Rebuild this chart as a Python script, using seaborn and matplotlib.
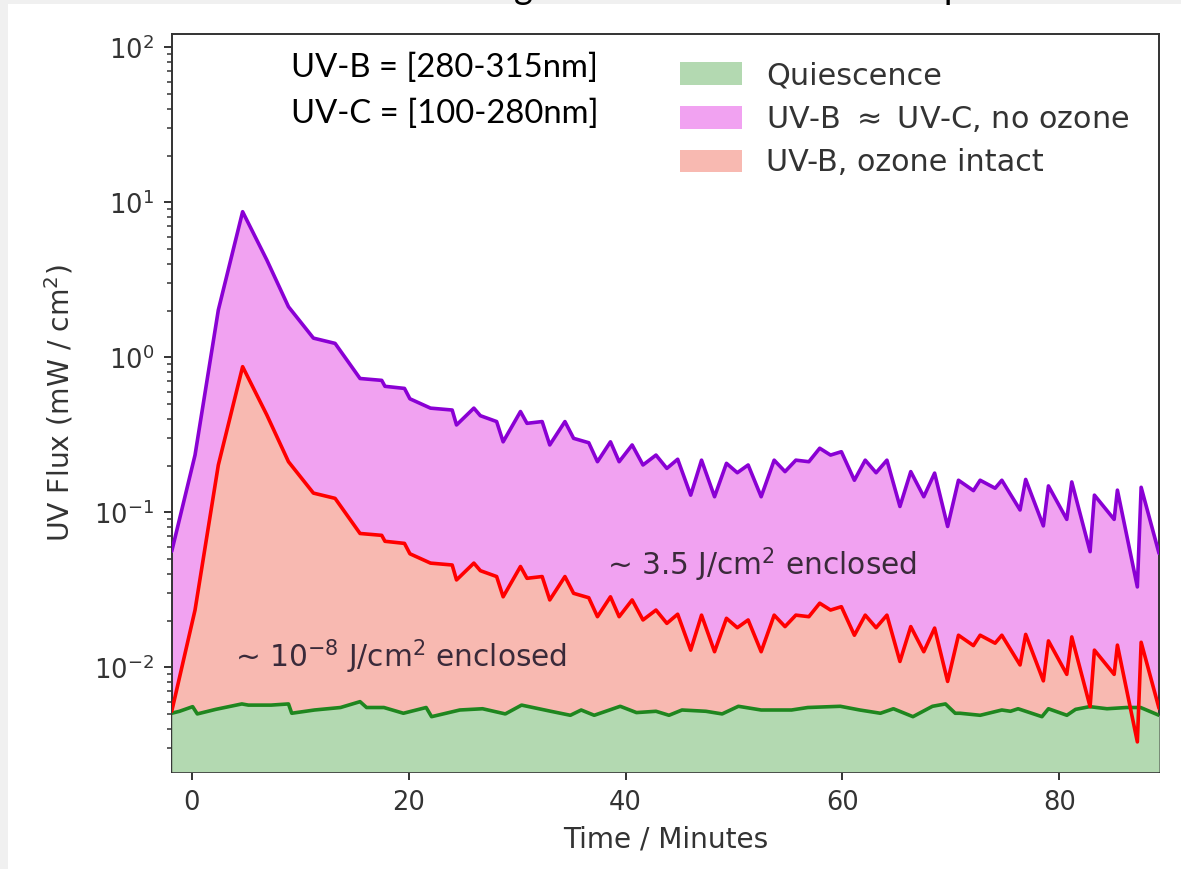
import numpy as np
import pandas as pd
import matplotlib
matplotlib.use("Agg")
import matplotlib.pyplot as plt
import seaborn as sns

# ---- flare light curve (minutes) -------------------------------------------
t_flare = [-1.87, 0.28, 2.43, 4.67, 6.9, 8.9, 11.2, 13.2, 15.5, 17.5, 17.8,
           19.6, 20.1, 22.0, 24.0, 24.4, 26.0, 26.6, 28.1, 28.7, 30.3, 30.9,
           32.3, 33.0, 34.4, 35.2, 36.6, 37.4, 38.6, 39.4, 40.6, 41.6, 42.8,
           43.8, 44.8, 46.0, 47.0, 48.2, 49.3, 50.3, 51.3, 52.5, 53.7, 54.7,
           55.7, 56.9, 57.9, 58.9, 59.9, 61.1, 62.1, 63.1, 64.1, 65.3, 66.3,
           67.5, 68.5, 69.7, 70.7, 72.08, 72.7, 74.08, 74.7, 76.38, 76.9,
           78.53, 79.0, 80.69, 81.15, 82.84, 83.24, 85.06, 85.36, 87.2, 87.55,
           89.2]

# UV-B ~ UV-C flux with no ozone layer (mW / cm^2)
flux_no_ozone = [0.056, 0.234, 2.02, 8.7, 4.25, 2.12, 1.33, 1.23, 0.73, 0.71,
                 0.65, 0.63, 0.54, 0.47, 0.457, 0.366, 0.47, 0.42, 0.385,
                 0.285, 0.447, 0.375, 0.385, 0.272, 0.385, 0.30, 0.281, 0.212,
                 0.285, 0.212, 0.272, 0.202, 0.234, 0.192, 0.22, 0.129, 0.217,
                 0.126, 0.207, 0.18, 0.202, 0.126, 0.217, 0.183, 0.217, 0.212,
                 0.259, 0.234, 0.246, 0.161, 0.217, 0.18, 0.217, 0.109, 0.183,
                 0.126, 0.179, 0.081, 0.161, 0.138, 0.161, 0.143, 0.161,
                 0.1035, 0.163, 0.0817, 0.148, 0.090, 0.157, 0.0557, 0.129,
                 0.090, 0.139, 0.033, 0.145, 0.0543]

# UV-B flux reaching the surface with the ozone layer intact (mW / cm^2)
flux_ozone = [0.0052, 0.0234, 0.202, 0.87, 0.425, 0.212, 0.133, 0.123, 0.073,
              0.071, 0.065, 0.063, 0.054, 0.047, 0.0457, 0.0366, 0.047, 0.042,
              0.0385, 0.0285, 0.0447, 0.0375, 0.0385, 0.0272, 0.0385, 0.030,
              0.0281, 0.0212, 0.0285, 0.0212, 0.0272, 0.0202, 0.0234, 0.0192,
              0.022, 0.0129, 0.0217, 0.0126, 0.0207, 0.018, 0.0202, 0.0126,
              0.0217, 0.0183, 0.0217, 0.0212, 0.0259, 0.0234, 0.0246, 0.0161,
              0.0217, 0.018, 0.0217, 0.0109, 0.0183, 0.0126, 0.0179, 0.0081,
              0.0161, 0.0138, 0.0161, 0.0143, 0.0161, 0.01035, 0.0163,
              0.00817, 0.0148, 0.0090, 0.0157, 0.00557, 0.0129, 0.0090,
              0.0139, 0.0033, 0.0145, 0.00543]

# quiescent stellar UV level (mW / cm^2)
t_quiet = [-1.87, -1.15, 0.06, 0.49, 2.19, 4.6, 5.2, 7.3, 8.9, 9.2, 11.3,
           13.7, 15.5, 16.1, 17.7, 19.5, 21.6, 22.1, 24.7, 26.8, 28.9, 30.4,
           33.1, 34.9, 35.9, 37.1, 39.5, 41.0, 42.8, 44.0, 45.2, 47.4, 48.9,
           50.4, 52.5, 55.3, 56.8, 59.8, 61.6, 63.5, 64.7, 66.5, 68.3, 69.5,
           70.4, 70.85, 72.7, 74.7, 75.5, 76.2, 78.4, 79.0, 80.7, 81.5, 82.8,
           84.4, 86.2, 87.5, 89.2]
flux_quiet = [0.00505, 0.0052, 0.00557, 0.0050, 0.00535, 0.0058, 0.0057,
              0.0057, 0.0058, 0.00505, 0.0053, 0.0055, 0.0060, 0.0055, 0.0055,
              0.00505, 0.0055, 0.0048, 0.0053, 0.0054, 0.0050, 0.0057, 0.0052,
              0.0049, 0.0053, 0.0049, 0.0056, 0.0051, 0.0052, 0.0049, 0.0053,
              0.0052, 0.0050, 0.0056, 0.0053, 0.0053, 0.0055, 0.0056, 0.0053,
              0.00505, 0.0054, 0.0048, 0.0056, 0.0058, 0.00505, 0.00505,
              0.0049, 0.0053, 0.0052, 0.0054, 0.0048, 0.0054, 0.0049, 0.00535,
              0.00557, 0.0054, 0.0055, 0.0055, 0.0049]

series_labels = ["Quiescence", r"UV-B $\approx$ UV-C, no ozone",
                 "UV-B, ozone intact"]
x_ticks = [0, 20, 40, 60, 80]

# ---- styling ----------------------------------------------------------------
sns.set_theme(style="ticks")
plt.rcParams["font.family"] = ["DejaVu Sans"]
plt.rcParams.update({
    "axes.edgecolor": "#333333",
    "axes.linewidth": 1.4,
    "xtick.major.width": 1.4,
    "ytick.major.width": 1.4,
    "ytick.minor.width": 1.1,
    "xtick.major.size": 6,
    "ytick.major.size": 6,
    "ytick.minor.size": 3.5,
    "xtick.color": "#333333",
    "ytick.color": "#333333",
})

fill_violet = "#f1a2f1"
fill_salmon = "#f8b9b1"
fill_green = "#b3d9b1"

fig = plt.figure(figsize=(11.81, 8.69), dpi=100)
fig.patch.set_facecolor("white")
ax = fig.add_axes([0.1454, 0.1120, 0.9814 - 0.1454, 0.9609 - 0.1120])

ymin, ymax = 2.12e-3, 122.0
xmin, xmax = -1.87, 89.2

df_flare = pd.DataFrame({"t": t_flare, "no_ozone": flux_no_ozone,
                         "ozone": flux_ozone})
df_quiet = pd.DataFrame({"t": t_quiet, "quiet": flux_quiet})

# filled regions, stacked back to front
ax.fill_between(df_flare["t"], ymin, df_flare["no_ozone"], color=fill_violet,
                lw=0, label=series_labels[1], zorder=1)
ax.fill_between(df_flare["t"], ymin, df_flare["ozone"], color=fill_salmon,
                lw=0, label=series_labels[2], zorder=2)
ax.fill_between(df_quiet["t"], ymin, df_quiet["quiet"], color=fill_green,
                lw=0, label=series_labels[0], zorder=3)

# outlines
sns.lineplot(data=df_quiet, x="t", y="quiet", ax=ax, color="#1f861f",
             lw=2.6, zorder=4, legend=False)
sns.lineplot(data=df_flare, x="t", y="ozone", ax=ax, color="#ff0000",
             lw=2.6, zorder=5, legend=False)
sns.lineplot(data=df_flare, x="t", y="no_ozone", ax=ax, color="#8a00d4",
             lw=2.6, zorder=6, legend=False)

ax.set_yscale("log")
ax.set_ylim(ymin, ymax)
ax.set_xlim(xmin, xmax)
ax.set_xticks(x_ticks)
ax.tick_params(axis="both", labelsize=18.5, pad=7)
ax.set_xlabel("Time / Minutes", fontsize=20.2, color="#333333", labelpad=7)
ax.set_ylabel(r"UV Flux (mW / cm$^2$)", fontsize=20.3, color="#333333",
              labelpad=13)
for sp in ax.spines.values():
    sp.set_visible(True)

# legend (order: quiescence, no ozone, ozone intact)
h, l = ax.get_legend_handles_labels()
order = [l.index(s) for s in series_labels]
ax.legend([h[i] for i in order], [l[i] for i in order],
          loc="upper left", bbox_to_anchor=(680 / 1181, 1 - 61 / 869),
          bbox_transform=fig.transFigure, frameon=False, fontsize=21.8,
          handlelength=2.05, handleheight=0.76, handletextpad=0.8,
          labelspacing=0.47, borderpad=0, borderaxespad=0,
          labelcolor="#333333")

# enclosed-energy annotations
ax.text(38.3, 0.046, "~ 3.5 J/cm$^2$ enclosed", fontsize=21.3,
        color="#3a2a3a", va="center", ha="left", zorder=7)
ax.text(3.95, 0.0117, "~ 10$^{-8}$ J/cm$^2$ enclosed", fontsize=21.3,
        color="#3a2a3a", va="center", ha="left", zorder=7)

# band definitions
fig.text(291 / 1181, 1 - 77 / 869, "UV-B = [280-315nm]", family="Lato",
         fontsize=23.6, color="black", va="baseline", ha="left")
fig.text(291 / 1181, 1 - 123 / 869, "UV-C = [100-280nm]", family="Lato",
         fontsize=23.6, color="black", va="baseline", ha="left")

# frame strips along the top and left edge
fig.add_artist(plt.Rectangle((0, 0), 8 / 1181, 1, transform=fig.transFigure,
                             color="#f0f0f0", lw=0, zorder=0))
fig.add_artist(plt.Rectangle((0, 1 - 4 / 869), 1, 4 / 869,
                             transform=fig.transFigure, color="#f0f0f0",
                             lw=0, zorder=0))
# descenders of the heading line above
fig.text(514 / 1181, 1 + 1 / 869, "g", family="Lato", fontsize=26,
         color="black", va="baseline", ha="left")
fig.text(944 / 1181, 1 + 1 / 869, "p", family="Lato", fontsize=26,
         color="black", va="baseline", ha="left")

fig.savefig("out.png", dpi=100)
